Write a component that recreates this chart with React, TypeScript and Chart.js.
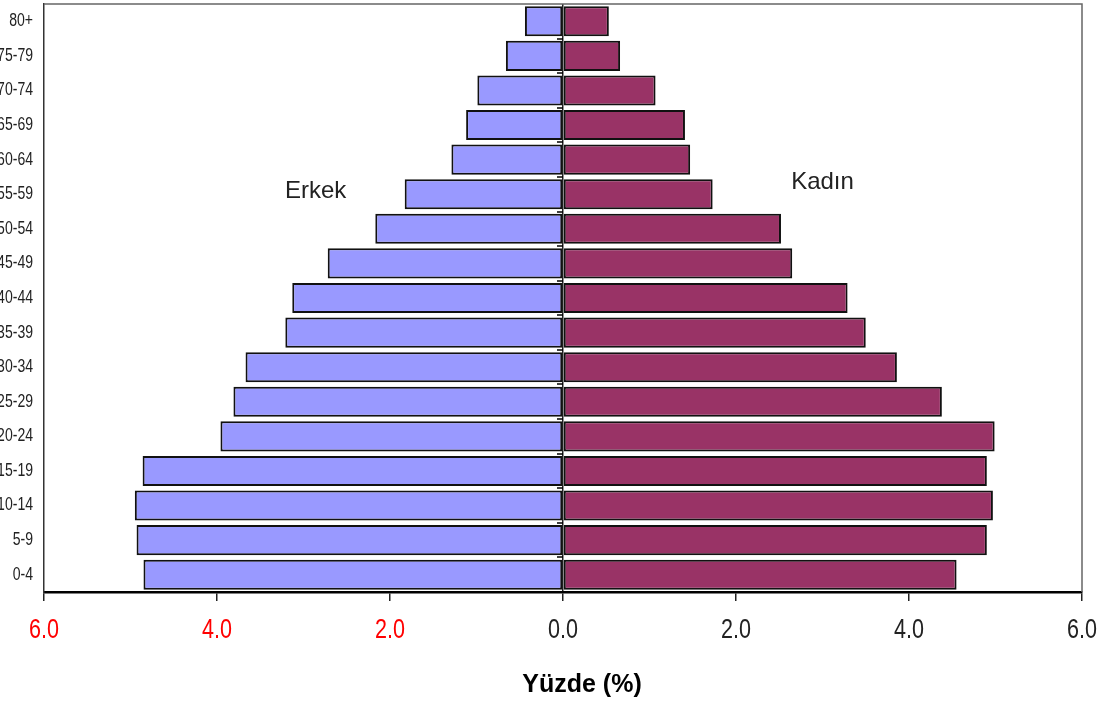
import React, { useEffect, useRef } from 'react';
import { Chart, registerables } from 'chart.js';

Chart.register(...registerables);

// ---- data ----
const ageGroups = ['0-4', '5-9', '10-14', '15-19', '20-24', '25-29', '30-34', '35-39', '40-44', '45-49', '50-54', '55-59', '60-64', '65-69', '70-74', '75-79', '80+'];
const maleShare = [4.85, 4.93, 4.95, 4.86, 3.96, 3.81, 3.67, 3.21, 3.13, 2.72, 2.17, 1.83, 1.29, 1.12, 0.99, 0.66, 0.44];
const femaleShare = [4.55, 4.90, 4.97, 4.90, 4.99, 4.38, 3.86, 3.50, 3.29, 2.65, 2.52, 1.73, 1.47, 1.41, 1.07, 0.66, 0.53];
const xMin = -6;
const xMax = 6;
const xStep = 2;
const maleLabel = 'Erkek';
const femaleLabel = 'Kadın';
const axisTitle = 'Yüzde (%)';

const sansFont = '"Liberation Sans", Arial, sans-serif';

const zeroPadding = (s: any) => {
  s.paddingLeft = 0;
  s.paddingRight = 0;
  s.paddingTop = 0;
  s.paddingBottom = 0;
};

const decorPlugin = {
  id: 'decor',
  beforeDatasetsDraw(chart: any) {
    const { ctx, chartArea: a } = chart;
    ctx.save();
    ctx.strokeStyle = '#666';
    ctx.lineWidth = 1.5;
    ctx.beginPath();
    ctx.moveTo(a.left, a.top);
    ctx.lineTo(a.right, a.top);
    ctx.lineTo(a.right, a.bottom);
    ctx.stroke();
    ctx.restore();
  },
  afterDatasetsDraw(chart: any) {
    const { ctx, chartArea: a, scales } = chart;
    const xs = scales.x;
    const ys = scales.y;
    const x0 = xs.getPixelForValue(0);
    const n = ageGroups.length;
    const step = (a.bottom - a.top) / n;
    ctx.save();
    // small category ticks on the zero axis
    ctx.strokeStyle = '#000';
    ctx.lineWidth = 1.5;
    for (let i = 1; i < n; i++) {
      const yy = Math.round(a.top + i * step);
      ctx.beginPath();
      ctx.moveTo(x0 - 6, yy);
      ctx.lineTo(x0, yy);
      ctx.stroke();
    }
    // x tick labels (narrow look)
    ctx.textAlign = 'center';
    ctx.textBaseline = 'middle';
    ctx.font = '28px ' + sansFont;
    xs.ticks.forEach((t: any, i: number) => {
      const px = xs.getPixelForTick(i);
      ctx.save();
      ctx.translate(px, a.bottom + 38);
      ctx.scale(0.77, 1);
      ctx.fillStyle = t.value < 0 ? '#FF0000' : '#222';
      ctx.fillText(Math.abs(Number(t.value)).toFixed(1), 0, 0);
      ctx.restore();
    });
    // y tick labels
    ctx.textAlign = 'right';
    ctx.font = '18px ' + sansFont;
    ctx.fillStyle = '#222';
    ys.ticks.forEach((t: any, i: number) => {
      const py = ys.getPixelForTick(i);
      ctx.save();
      ctx.translate(a.left - 11, py);
      ctx.scale(0.78, 1);
      ctx.fillText(ageGroups[t.value], 0, 0);
      ctx.restore();
    });
    // side labels
    ctx.textAlign = 'center';
    ctx.fillStyle = '#222';
    ctx.font = '24px ' + sansFont;
    const yRef = ys.getPixelForValue(ageGroups.indexOf('55-59'));
    ctx.fillText(maleLabel, xs.getPixelForValue(-2.86), yRef - 3);
    ctx.fillText(femaleLabel, xs.getPixelForValue(3.0), yRef - 12);
    // axis title
    ctx.fillStyle = '#000';
    ctx.font = 'bold 25px ' + sansFont;
    ctx.fillText(axisTitle, (a.left + a.right) / 2 + 19, 685);
    ctx.restore();
  },
};

export default function App() {
  const canvasRef = useRef<HTMLCanvasElement | null>(null);

  useEffect(() => {
    const canvas = canvasRef.current;
    if (!canvas) return;
    const chart = new Chart(canvas, {
      type: 'bar',
      data: {
        labels: ageGroups,
        datasets: [
          {
            label: maleLabel,
            data: maleShare.map((v) => -v),
            backgroundColor: '#9999FF',
            borderColor: '#111',
            borderWidth: 2,
            borderSkipped: false,
            barPercentage: 0.87,
            categoryPercentage: 1,
          },
          {
            label: femaleLabel,
            data: femaleShare,
            backgroundColor: '#993366',
            borderColor: '#111',
            borderWidth: 2,
            borderSkipped: false,
            barPercentage: 0.87,
            categoryPercentage: 1,
          },
        ],
      },
      options: {
        indexAxis: 'y',
        responsive: false,
        maintainAspectRatio: false,
        animation: false,
        layout: { padding: { top: 4, right: 20, left: 0, bottom: 0 } },
        plugins: {
          legend: { display: false },
          tooltip: { enabled: false },
          title: { display: false },
        },
        scales: {
          x: {
            type: 'linear',
            min: xMin,
            max: xMax,
            stacked: true,
            afterFit: (s: any) => {
              s.height = 112;
              zeroPadding(s);
            },
            grid: {
              color: (c: any) => (c.tick && c.tick.value === 0 ? '#222' : 'rgba(0,0,0,0)'),
              lineWidth: 1.5,
              drawOnChartArea: true,
              drawTicks: true,
              tickLength: 9,
              tickColor: '#222',
              tickWidth: 1.5,
            },
            border: { display: true, color: '#000', width: 2.5 },
            ticks: {
              display: false,
              stepSize: xStep,
              autoSkip: false,
              maxRotation: 0,
            },
          },
          y: {
            type: 'category',
            reverse: true,
            stacked: true,
            afterFit: (s: any) => {
              s.width = 44;
              zeroPadding(s);
            },
            grid: { display: false, drawTicks: false },
            border: { display: true, color: '#333', width: 1.5 },
            ticks: {
              display: false,
              autoSkip: false,
            },
          },
        },
      },
      plugins: [decorPlugin],
    } as any);
    return () => chart.destroy();
  }, []);

  return (
    <div style={{ position: 'absolute', left: 0, top: 0, width: 1102, height: 704, background: '#fff' }}>
      <canvas ref={canvasRef} width={1102} height={704} style={{ display: 'block', width: 1102, height: 704 }} />
    </div>
  );
}
